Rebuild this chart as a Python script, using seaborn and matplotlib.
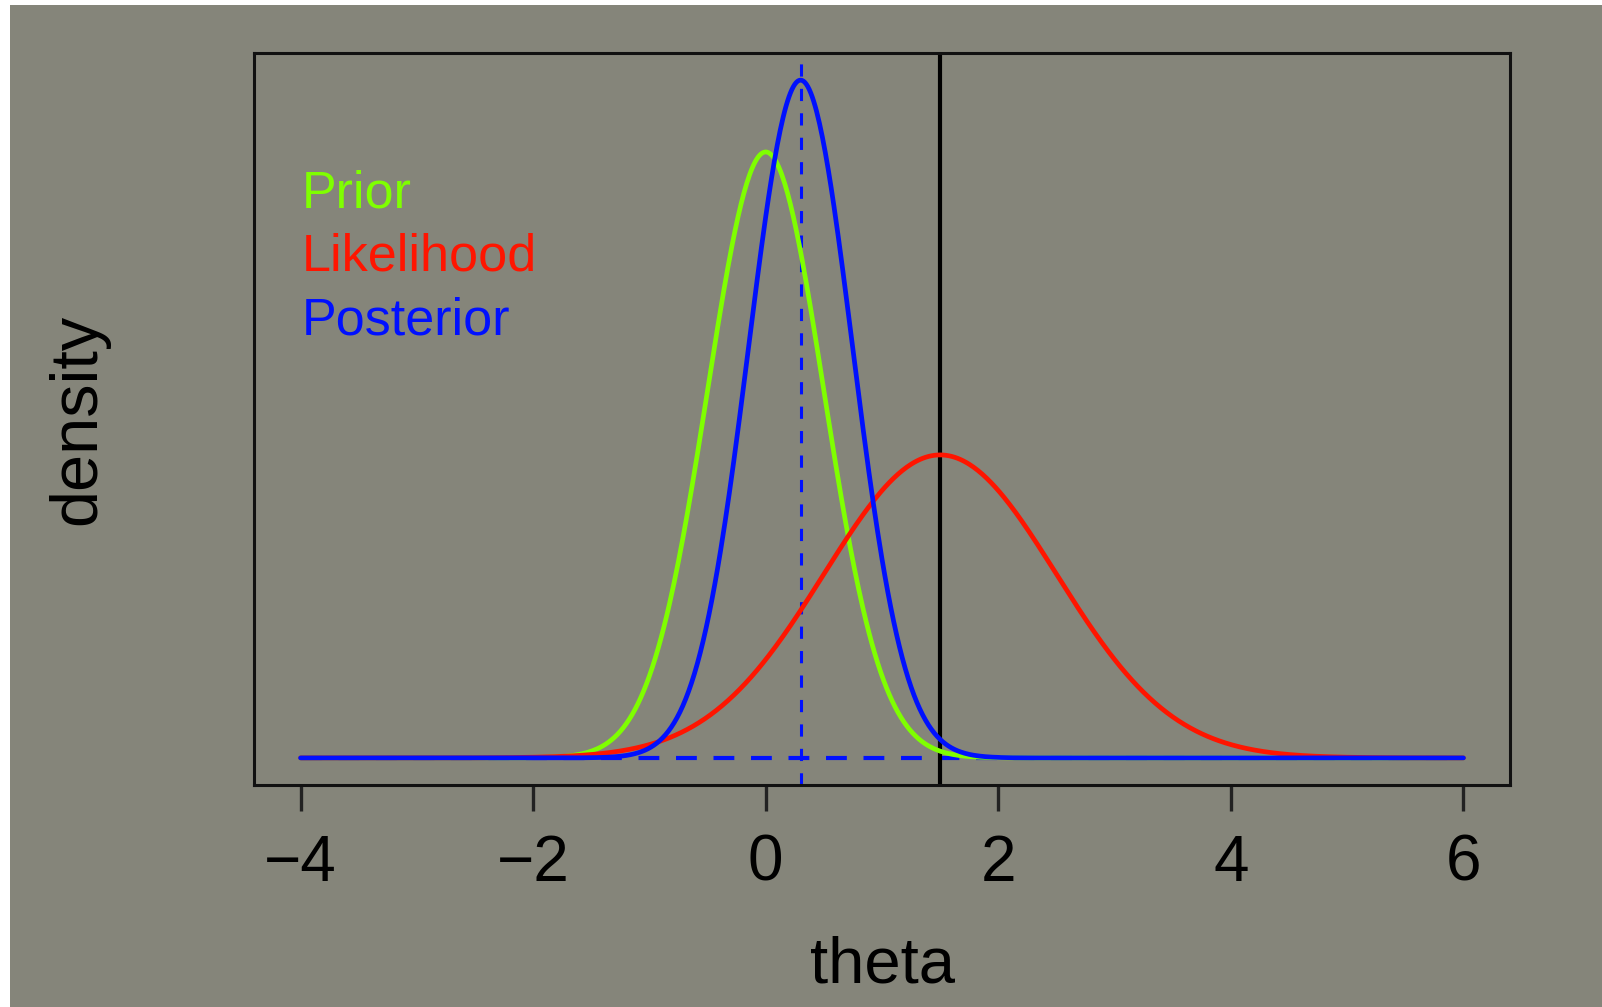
import numpy as np
import pandas as pd
import seaborn as sns
import matplotlib.pyplot as plt
from matplotlib.patches import Rectangle

# Normal-normal model: prior N(0, 0.5), likelihood N(1.5, 1), posterior N(0.3, sqrt(0.2))
curve_names = ['Prior', 'Likelihood', 'Posterior']
curve_means = [0.0, 1.5, 0.3]
curve_sds = [0.5, 1.0, 0.447]
curve_colors = ['#7fff00', '#ff1500', '#0010ff']
observed_theta = 1.5
x_ticks = [-4, -2, 0, 2, 4, 6]

theta = np.linspace(-4, 6, 801)
rows = []
for name, m, s in zip(curve_names, curve_means, curve_sds):
    dens = np.exp(-0.5 * ((theta - m) / s) ** 2) / (s * np.sqrt(2 * np.pi))
    rows.append(pd.DataFrame({'theta': theta, 'density': dens, 'curve': name}))
df = pd.concat(rows, ignore_index=True)

sns.set_style('ticks')
plt.rcParams['font.family'] = ['Liberation Sans', 'DejaVu Sans']
plt.rcParams['text.color'] = 'black'
plt.rcParams['axes.labelcolor'] = 'black'
plt.rcParams['xtick.color'] = 'black'

bg = '#85857a'
fig = plt.figure(figsize=(16.02, 10.07), dpi=100, facecolor='white')
fig.patches.append(Rectangle((10 / 1602, 0), 1, 1 - 5 / 1007, transform=fig.transFigure,
                             facecolor=bg, edgecolor='none', zorder=-10))
ax = fig.add_axes([254 / 1602, 1 - 785 / 1007, 1256 / 1602, 732 / 1007])
ax.set_facecolor(bg)

# dashed blue baseline and posterior mean marker
ax.plot([-4, 6], [0, 0], color=curve_colors[2], lw=3, ls=(0, (5, 4)), zorder=1)
ax.axvline(curve_means[2], color=curve_colors[2], lw=2.2, ls=(0, (4, 4)), zorder=1)
ax.axvline(observed_theta, color='black', lw=3, zorder=2)

sns.lineplot(data=df, x='theta', y='density', hue='curve', palette=dict(zip(curve_names, curve_colors)),
             linewidth=3.4, legend=False, ax=ax, zorder=3, sort=False)

ax.set_xlim(-4.4, 6.4)
ymax = df['density'].max()
ax.set_ylim(-0.04 * ymax, 1.04 * ymax)
ax.set_xticks(x_ticks)
ax.set_xticklabels([str(t).replace('-', '\u2212') for t in x_ticks])
ax.set_yticks([])
ax.tick_params(axis='x', length=19, width=2.4, labelsize=46, pad=16, color='#222222', labelcolor='black')
for sp in ax.spines.values():
    sp.set_visible(True)
    sp.set_linewidth(2.2)
    sp.set_color('#111111')

ax.set_xlabel('theta', fontsize=47, labelpad=30, color='black')
ax.set_ylabel('density', fontsize=48, labelpad=104, color='black')

for i, (name, col) in enumerate(zip(curve_names, curve_colors)):
    ax.text(0.038, 0.808 - i * 0.087, name, color=col, fontsize=37.5, transform=ax.transAxes,
            va='center', ha='left')

fig.savefig('out.png', dpi=100, facecolor=fig.get_facecolor())
